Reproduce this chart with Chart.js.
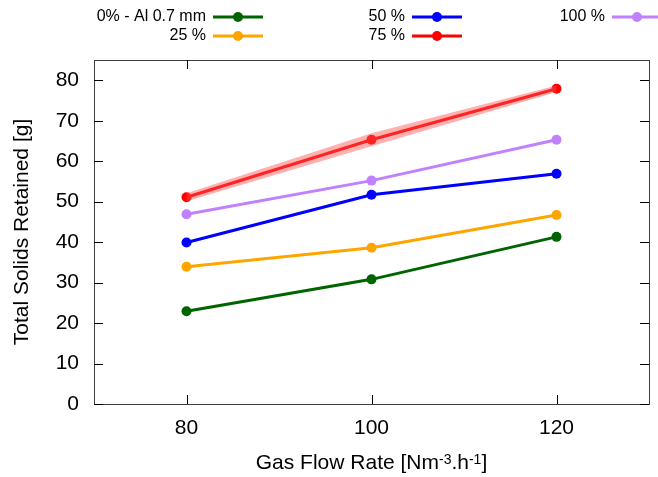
<!DOCTYPE html>
<html>
<head>
<meta charset="utf-8">
<title>Total Solids Retained</title>
<script src="https://cdn.jsdelivr.net/npm/chart.js@4"></script>
<style>
  html, body { margin: 0; padding: 0; background: #fff; }
  #chart { display: block; }
</style>
</head>
<body>
<canvas id="chart" width="658" height="477"></canvas>
<script>
'use strict';

// gas flow rates (x) and retained solids per aluminium share (y)
const flowRates = [80, 100, 120];
const seriesNames = ['0% - Al 0.7 mm', '25 %', '50 %', '75 %', '100 %'];
const al0 = [22.9, 30.8, 41.3];
const al25 = [33.9, 38.6, 46.7];
const al50 = [39.9, 51.7, 56.9];
const al75 = [51.1, 65.3, 77.9];
const al100 = [46.9, 55.2, 65.3];
// spread around the 75 % series
const al75Lower = [50.1, 63.7, 77.1];
const al75Upper = [52.1, 66.9, 78.7];
const xTicks = [80, 100, 120];
const yTicks = [0, 10, 20, 30, 40, 50, 60, 70, 80];

const colors = ['#006400', '#ffa500', '#0000ff', '#ff0000', '#c080ff'];
const FONT = '"Liberation Sans", Arial, sans-serif';

const toPoints = (ys) => ys.map((y, i) => ({ x: flowRates[i], y: y }));

const lineSet = (idx, values) => ({
  label: seriesNames[idx],
  key: idx,
  data: toPoints(values),
  borderColor: colors[idx],
  backgroundColor: colors[idx],
  borderWidth: 3,
  pointRadius: 5,
  pointHoverRadius: 5,
  pointBorderWidth: 0,
  fill: false,
  tension: 0,
});

// band datasets are kept out of the legend
const bandLower = {
  label: 'band',
  isBand: true,
  data: toPoints(al75Lower),
  borderWidth: 0,
  pointRadius: 0,
  fill: false,
};
const bandUpper = {
  label: 'band',
  isBand: true,
  data: toPoints(al75Upper),
  borderWidth: 0,
  pointRadius: 0,
  backgroundColor: 'rgba(255, 80, 80, 0.45)',
  fill: '-1',
};

// frame, inward ticks on all four sides, axis titles
const framePlugin = {
  id: 'frame',
  afterDraw(chart) {
    const { ctx, chartArea: a, scales } = chart;
    ctx.save();
    ctx.strokeStyle = '#404040';
    ctx.lineWidth = 1;
    ctx.strokeRect(a.left + 0.5, a.top + 0.5, a.right - a.left, a.bottom - a.top);
    ctx.strokeStyle = '#000';
    ctx.beginPath();
    const len = 9;
    xTicks.forEach((v) => {
      const px = Math.round(scales.x.getPixelForValue(v)) + 0.5;
      ctx.moveTo(px, a.bottom);
      ctx.lineTo(px, a.bottom - len);
      ctx.moveTo(px, a.top);
      ctx.lineTo(px, a.top + len);
    });
    yTicks.forEach((v) => {
      const py = Math.round(scales.y.getPixelForValue(v)) + 0.5;
      ctx.moveTo(a.left, py);
      ctx.lineTo(a.left + len, py);
      ctx.moveTo(a.right, py);
      ctx.lineTo(a.right - len, py);
    });
    ctx.stroke();

    ctx.fillStyle = '#000';

    // y title, rotated
    ctx.save();
    ctx.translate(22, (a.top + a.bottom) / 2);
    ctx.rotate(-Math.PI / 2);
    ctx.font = '21px ' + FONT;
    ctx.textAlign = 'center';
    ctx.textBaseline = 'middle';
    ctx.fillText('Total Solids Retained [g]', 0, 0);
    ctx.restore();

    // x title with superscripts
    const parts = [
      ['Gas Flow Rate [Nm', false],
      ['-3', true],
      ['.h', false],
      ['-1', true],
      [']', false],
    ];
    const big = '21px ' + FONT;
    const small = '14px ' + FONT;
    let total = 0;
    parts.forEach(([t, sup]) => {
      ctx.font = sup ? small : big;
      total += ctx.measureText(t).width;
    });
    let x = (a.left + a.right) / 2 - total / 2;
    const base = 469;
    ctx.textBaseline = 'alphabetic';
    ctx.textAlign = 'left';
    parts.forEach(([t, sup]) => {
      ctx.font = sup ? small : big;
      ctx.fillText(t, x, sup ? base - 5 : base);
      x += ctx.measureText(t).width;
    });
    ctx.restore();
  },
};

// legend in three columns, two rows, filled column by column
const keyPlugin = {
  id: 'key',
  afterDraw(chart) {
    const { ctx } = chart;
    const textRight = [206, 405, 605];
    const rows = [17, 36];
    const items = chart.data.datasets
      .filter((d) => !d.isBand)
      .sort((p, q) => p.key - q.key);
    ctx.save();
    ctx.font = '16px ' + FONT;
    ctx.textBaseline = 'middle';
    items.forEach((d, i) => {
      const col = Math.floor(i / 2);
      const y = rows[i % 2];
      const tx = textRight[col];
      ctx.fillStyle = '#000';
      ctx.textAlign = 'right';
      ctx.fillText(d.label, tx, y);
      ctx.strokeStyle = d.borderColor;
      ctx.lineWidth = 3;
      ctx.beginPath();
      ctx.moveTo(tx + 7, y);
      ctx.lineTo(tx + 57, y);
      ctx.stroke();
      ctx.fillStyle = d.borderColor;
      ctx.beginPath();
      ctx.arc(tx + 32, y, 5, 0, Math.PI * 2);
      ctx.fill();
    });
    ctx.restore();
  },
};

const chart = new Chart(document.getElementById('chart'), {
  type: 'line',
  data: {
    datasets: [
      bandLower,
      bandUpper,
      lineSet(0, al0),
      lineSet(1, al25),
      lineSet(2, al50),
      lineSet(4, al100),
      lineSet(3, al75),
    ],
  },
  options: {
    responsive: false,
    animation: false,
    devicePixelRatio: 1,
    layout: { padding: { top: 60, right: 9, left: 0, bottom: 0 } },
    plugins: {
      legend: { display: false },
      tooltip: { enabled: false },
    },
    scales: {
      x: {
        type: 'linear',
        min: 70,
        max: 130,
        grid: { display: false },
        border: { display: false },
        afterBuildTicks: (s) => { s.ticks = xTicks.map((v) => ({ value: v })); },
        afterFit: (s) => { s.height = 73; },
        ticks: {
          color: '#000',
          padding: 4,
          font: { family: FONT, size: 21 },
        },
      },
      y: {
        min: 0,
        max: 85,
        grid: { display: false },
        border: { display: false },
        afterBuildTicks: (s) => { s.ticks = yTicks.map((v) => ({ value: v })); },
        afterFit: (s) => { s.width = 94; },
        ticks: {
          color: '#000',
          padding: 7,
          font: { family: FONT, size: 21 },
        },
      },
    },
  },
  plugins: [framePlugin, keyPlugin],
});
</script>
</body>
</html>
